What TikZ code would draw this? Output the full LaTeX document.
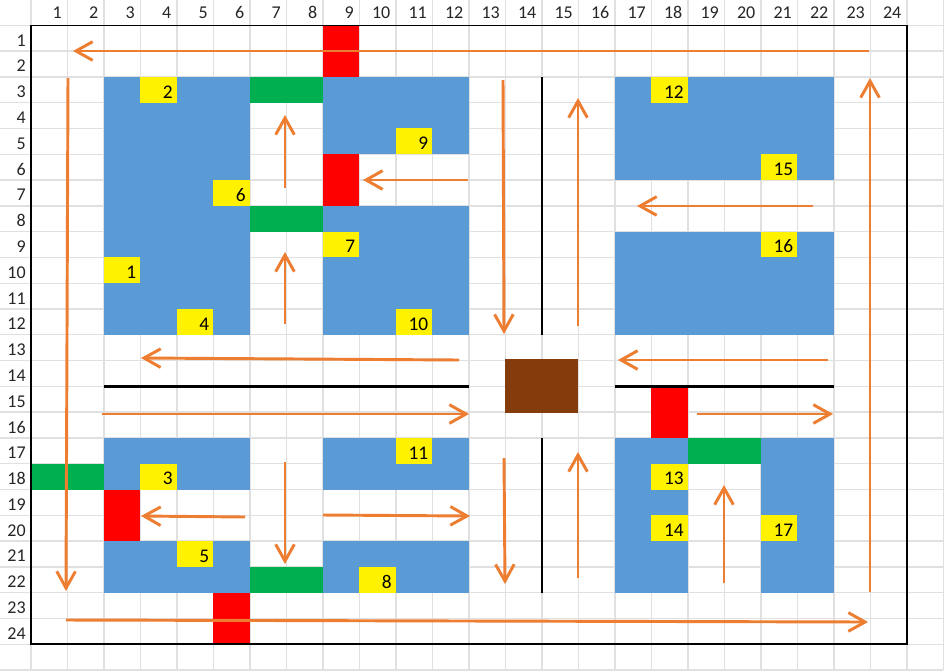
\documentclass[tikz,border=0pt]{standalone}
\usepackage{fontspec}
\setmainfont{Carlito}
\usetikzlibrary{arrows.meta}
\definecolor{gridc}{HTML}{E0E0E0}
\definecolor{bluec}{HTML}{5B9BD5}
\definecolor{greenc}{HTML}{00B050}
\definecolor{brownc}{HTML}{843C0C}
\definecolor{orangec}{HTML}{ED7D31}
\tikzset{
  gridline/.style={draw=gridc,line width=1pt},
  framebox/.style={draw=black,line width=1.2pt},
  wall/.style={draw=black,line width=1.7pt},
  flow/.style={draw=orangec,line width=2.2pt,-{Straight Barb[length=12.5pt,width=14pt,line width=2.2pt]}},
  headnum/.style={font=\fontsize{13.5}{13.5}\selectfont,inner sep=0pt,text=black!85,anchor=base east},
  cellnum/.style={font=\fontsize{14.5}{14.5}\selectfont,inner sep=0pt,text=black,anchor=base east}
}
\begin{document}
\begin{tikzpicture}[x=0.75pt,y=-0.75pt]
\useasboundingbox (0,0) rectangle (944,671);
\fill[white] (0,0) rectangle (944,671);
\begin{scope}[xshift=23.175pt,yshift=-18.975pt,x=27.375pt,y=-19.3425pt]
  % sheet grid
  \foreach \c in {0,...,25} \draw[gridline] (\c,-1) -- (\c,25);
  \draw[gridline] (-1,-1) -- (-1,25);
  \foreach \r in {0,...,25} \draw[gridline] (-1,\r) -- (25,\r);
  % sheet headers
  \foreach \c in {1,...,24} \node[headnum] (col\c) at ([xshift=-4pt,yshift=5.25pt]\c,0) {\c};
  \foreach \r in {1,...,24} \node[headnum] (row\r) at ([xshift=-3.7pt,yshift=3.7pt]0,\r) {\r};
  % blue blocks
  \foreach \a/\b/\c/\d in {2/2/6/12, 8/2/12/5, 8/7/12/12, 16/2/22/6, 16/8/22/12,
      2/16/6/18, 2/20/6/22, 8/16/12/18, 8/20/12/22, 16/16/18/22, 20/16/22/22}
    \fill[bluec] (\a,\b) rectangle (\c,\d);
  % green blocks
  \foreach \a/\b/\c/\d in {6/2/8/3, 6/7/8/8, 0/17/2/18, 6/21/8/22, 18/16/20/17}
    \fill[greenc] (\a,\b) rectangle (\c,\d);
  % red blocks
  \foreach \a/\b/\c/\d in {8/0/9/2, 8/5/9/7, 2/18/3/20, 5/22/6/24, 17/14/18/16}
    \fill[red] (\a,\b) rectangle (\c,\d);
  % brown block
  \fill[brownc] (13,12.95) rectangle (15,15.03);
  % numbered yellow cells
  \foreach \c/\r/\t in {3/10/1, 4/3/2, 4/18/3, 5/12/4, 5/21/5, 6/7/6, 9/9/7, 10/22/8, 11/5/9,
      11/12/10, 11/17/11, 18/3/12, 18/18/13, 18/20/14, 21/6/15, 21/9/16, 21/20/17} {
    \fill[yellow] (\c-1,\r-1) rectangle (\c,\r);
    \node[cellnum] (num\t) at ([xshift=-3pt,yshift=3.4pt]\c,\r) {\t};
  }
  % walls
  \draw[wall] (2,14) -- (12,14);
  \draw[wall] (16,14) -- (22,14);
  \draw[wall] (14,2) -- (14,12);
  \draw[wall] (14,16) -- (14,22);
  % outer frame
  \draw[framebox] (0,0) rectangle (24,24);
\end{scope}
% traffic arrows
\draw[flow] (869,51) -- (73,51);
\draw[flow] (68,78) -- (66,591);
\draw[flow] (66,620) -- (868,622);
\draw[flow] (870,592) -- (870,78);
\draw[flow] (285,188) -- (285,115);
\draw[flow] (468,180) -- (363,180);
\draw[flow] (285,324) -- (285,252);
\draw[flow] (459,360) -- (141,358);
\draw[flow] (102,414) -- (469,414);
\draw[flow] (503,80) -- (504,334);
\draw[flow] (578,326) -- (578,98);
\draw[flow] (813,206) -- (637,206);
\draw[flow] (828,360) -- (618,360);
\draw[flow] (697,414) -- (833,414);
\draw[flow] (504,458) -- (505,584);
\draw[flow] (578,578) -- (578,452);
\draw[flow] (285,462) -- (285,564);
\draw[flow] (245,517) -- (141,516);
\draw[flow] (323,515) -- (470,516);
\draw[flow] (724,583) -- (724,485);
\end{tikzpicture}
\end{document}
